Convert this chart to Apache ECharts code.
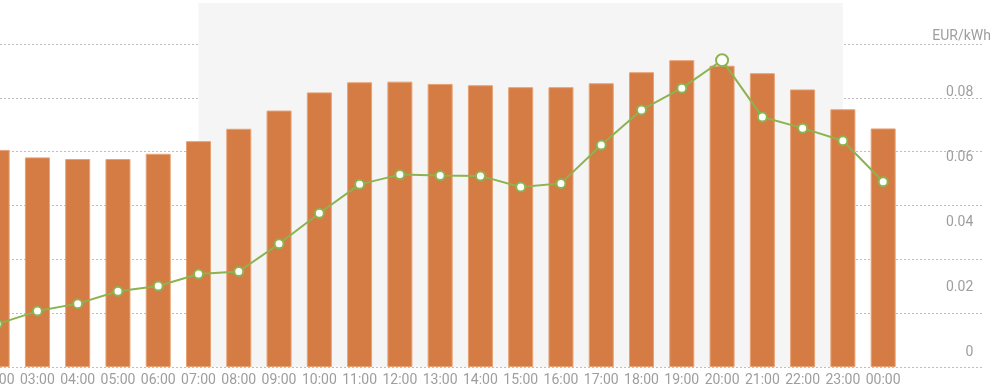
<!DOCTYPE html>
<html>
<head>
<meta charset="utf-8">
<script src="https://cdn.jsdelivr.net/npm/echarts@6/dist/echarts.min.js"></script>
<style>html,body{margin:0;padding:0;background:#fff;overflow:hidden}#c{width:1023px;height:384px;margin-left:-23px}</style>
</head>
<body>
<div id="c"></div>
<script>
var hours = ['02:00','03:00','04:00','05:00','06:00','07:00','08:00','09:00','10:00','11:00','12:00','13:00','14:00','15:00','16:00','17:00','18:00','19:00','20:00','21:00','22:00','23:00','00:00'];
var barPrice = [0.0668,0.0645,0.0640,0.0640,0.0656,0.0695,0.0733,0.0789,0.0845,0.0876,0.0878,0.0871,0.0867,0.0861,0.0861,0.0873,0.0907,0.0944,0.0927,0.0904,0.0854,0.0793,0.0734];
var linePrice = [0.0132,0.0172,0.0195,0.0233,0.0249,0.0286,0.0294,0.0379,0.0473,0.0562,0.0592,0.0589,0.0588,0.0554,0.0565,0.0683,0.0791,0.0858,0.0944,0.0769,0.0735,0.0696,0.0570];
var shadeFrom = '07:00', shadeTo = '23:00';
var currentHour = '20:00';
var unitLabel = 'EUR/kWh';

var GREEN = '#8cb34f', ORANGE = '#d57b44', GREY = '#9e9e9e';
var lineData = linePrice.map(function(v, i){
  if (hours[i] === currentHour) return {value: v, symbolSize: 12};
  return v;
});
var chart = echarts.init(document.getElementById('c'));
chart.setOption({
  backgroundColor: '#ffffff',
  animation: false,
  textStyle: {fontFamily: 'Roboto'},
  title: {text: unitLabel, right: 9, top: 29, padding: 0,
    textStyle: {fontSize: 14, fontWeight: 'normal', color: GREY, fontFamily: 'Roboto'}},
  grid: [
    {left: 0, right: 96.7, top: 3, bottom: 17, containLabel: false, outerBoundsMode: 'none'},
    {left: 23, right: 18, top: 44, bottom: 17, containLabel: false, outerBoundsMode: 'none'},
    {left: 0, right: 96.7, top: 42, bottom: 17, containLabel: false, outerBoundsMode: 'none'}
  ],
  xAxis: [
    {gridIndex: 0, type: 'value', min: -0.5, max: hours.length - 0.5, show: false},
    {gridIndex: 1, type: 'value', min: 0, max: 1, show: false},
    {gridIndex: 2, type: 'category', data: hours,
      axisLine: {show: false}, axisTick: {show: false},
      axisLabel: {interval: 0, color: GREY, fontSize: 14, margin: 6, fontFamily: 'Roboto'}}
  ],
  yAxis: [
    {gridIndex: 0, type: 'value', show: false, min: 0, max: 1},
    {gridIndex: 1, type: 'value', min: 0, max: 6, interval: 1,
      axisLine: {show: false}, axisTick: {show: false}, axisLabel: {show: false},
      splitLine: {show: true, lineStyle: {color: '#bdbdbd', width: 1, type: [2, 2]}}},
    {gridIndex: 2, type: 'value', position: 'right', min: 0, max: 0.1, interval: 0.02,
      axisLine: {show: false}, axisTick: {show: false}, splitLine: {show: false},
      axisLabel: {align: 'right', margin: 70, verticalAlign: 'bottom', padding: [0,0,8,0],
        color: GREY, fontSize: 14, fontFamily: 'Roboto', showMaxLabel: false,
        formatter: function(v){ return v >= 0.099 ? '' : (v === 0 ? '0' : v.toFixed(2)); }}}
  ],
  series: [
    {type: 'line', xAxisIndex: 0, yAxisIndex: 0, data: [], z: -1, silent: true,
      markArea: {silent: true, itemStyle: {color: '#f5f5f5'},
        data: [[{xAxis: hours.indexOf(shadeFrom)}, {xAxis: hours.indexOf(shadeTo)}]]}},
    {type: 'bar', xAxisIndex: 2, yAxisIndex: 2, data: barPrice, barWidth: 25,
      itemStyle: {color: ORANGE, borderColor: '#e7a273', borderWidth: 1}},
    {type: 'line', xAxisIndex: 2, yAxisIndex: 2, data: lineData, symbol: 'circle', symbolSize: 9,
      lineStyle: {color: GREEN, width: 2},
      itemStyle: {color: '#ffffff', borderColor: GREEN, borderWidth: 2}}
  ]
});
</script>
</body>
</html>
